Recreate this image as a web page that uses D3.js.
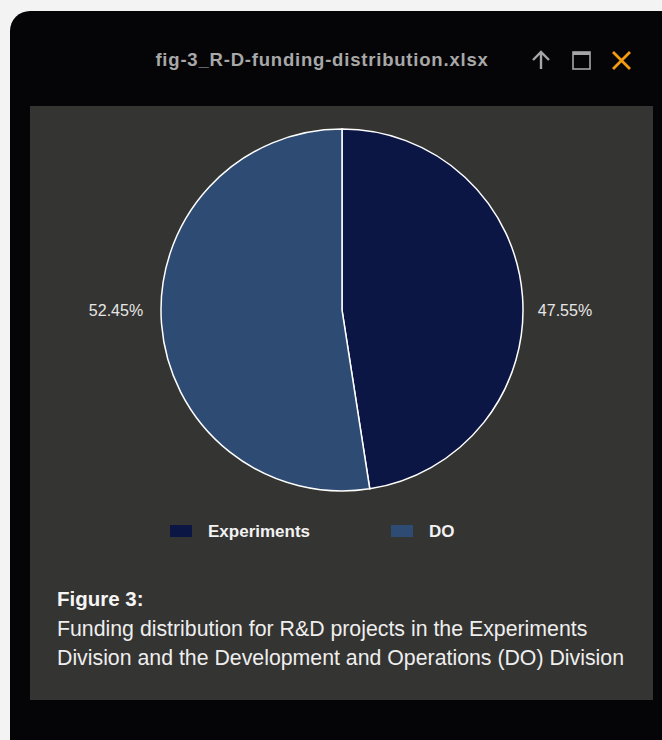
<!DOCTYPE html>
<html><head><meta charset="utf-8">
<script src="https://cdn.jsdelivr.net/npm/d3@7"></script>
<style>
html,body{margin:0;padding:0;background:#f3f3f3;}
svg{display:block;font-family:"Liberation Sans",Arial,Helvetica,sans-serif;}
</style></head>
<body>
<svg id="c" width="662" height="740"></svg>
<script>
const categories = ["Experiments", "DO"];
const values = [47.55, 52.45];
const colors = ["#0c1645", "#2d4b73"];
const windowTitle = "fig-3_R-D-funding-distribution.xlsx";
const captionTitle = "Figure 3:";
const captionLines = ["Funding distribution for R&D projects in the Experiments", "Division and the Development and Operations (DO) Division"];

const svg = d3.select("#c");
// window frame
svg.append("rect").attr("x", 10).attr("y", 11).attr("width", 700).attr("height", 780)
  .attr("rx", 20).attr("fill", "#050507");
svg.append("text").attr("x", 322).attr("y", 66).attr("text-anchor", "middle")
  .attr("font-size", 18.5).attr("letter-spacing", 0.8).attr("font-weight", "bold").attr("fill", "#a8a8a8").text(windowTitle);
// icons
const ic = svg.append("g").attr("stroke-width", 2.4).attr("fill", "none");
ic.append("path").attr("d", "M541,69 V52 M533,60 L541,52 L549,60").attr("stroke", "#a6a6a6");
ic.append("rect").attr("x", 573).attr("y", 52).attr("width", 17).attr("height", 17).attr("stroke", "#a6a6a6").attr("stroke-width", 1.6);
ic.append("rect").attr("x", 573).attr("y", 52).attr("width", 17).attr("height", 3).attr("fill", "#a6a6a6").attr("stroke", "none");
ic.append("path").attr("d", "M613,52 L630,69 M630,52 L613,69").attr("stroke", "#f39c12").attr("stroke-width", 2.8);

// panel
svg.append("rect").attr("x", 30).attr("y", 106).attr("width", 623).attr("height", 594).attr("fill", "#343432");

const cx = 342, cy = 310, r = 181;
const pie = d3.pie().sort(null).value(d => d)(values);
const arc = d3.arc().innerRadius(0).outerRadius(r);
const g = svg.append("g").attr("transform", `translate(${cx},${cy})`);
g.selectAll("path").data(pie).join("path")
  .attr("d", arc).attr("fill", (d, i) => colors[i])
  .attr("stroke", "#ffffff").attr("stroke-width", 1.5);

// labels
const fmt = v => v.toFixed(2) + "%";
svg.append("text").attr("x", 565).attr("y", 316).attr("text-anchor", "middle")
  .attr("font-size", 16).attr("fill", "#e6e6e6").text(fmt(values[0]));
svg.append("text").attr("x", 116).attr("y", 316).attr("text-anchor", "middle")
  .attr("font-size", 16).attr("fill", "#e6e6e6").text(fmt(values[1]));

// legend
const lx = [170, 391];
categories.forEach((c, i) => {
  svg.append("rect").attr("x", lx[i]).attr("y", 525).attr("width", 22).attr("height", 12).attr("fill", colors[i]);
  svg.append("text").attr("x", lx[i] + 38).attr("y", 537).attr("font-size", 17).attr("font-weight", "bold")
    .attr("fill", "#f2f2f2").text(c);
});

// caption
svg.append("text").attr("x", 57).attr("y", 606).attr("font-size", 20.5).attr("font-weight", "bold")
  .attr("fill", "#f5f5f5").text(captionTitle);
captionLines.forEach((t, i) => {
  svg.append("text").attr("x", 57).attr("y", 636 + i * 29).attr("font-size", 21.3)
    .attr("fill", "#eeeeee").text(t);
});
</script>
</body></html>
